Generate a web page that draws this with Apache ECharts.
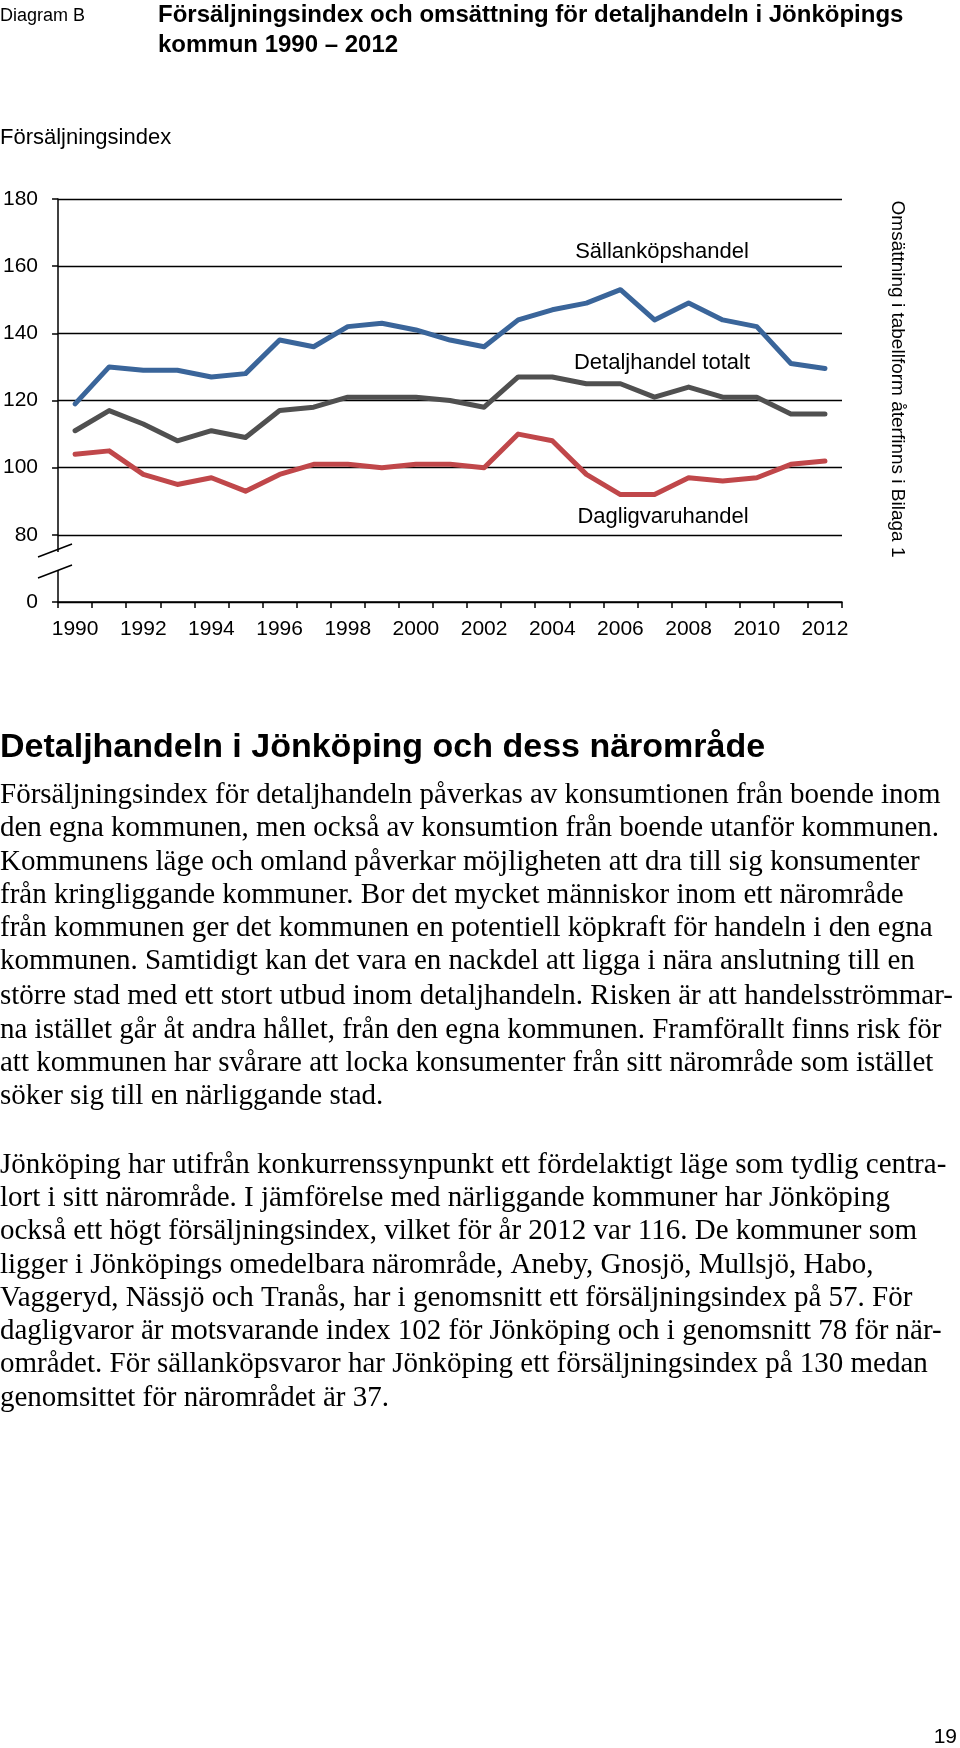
<!DOCTYPE html>
<html>
<head>
<meta charset="utf-8">
<script src="https://cdn.jsdelivr.net/npm/echarts@6/dist/echarts.min.js"></script>
<style>
html,body{margin:0;padding:0;background:#fff;}
#c{width:960px;height:1748px;}
</style>
</head>
<body>
<div id="c"></div>
<script>
// ---- data ----
const years = ['1990','1991','1992','1993','1994','1995','1996','1997','1998','1999','2000','2001','2002','2003','2004','2005','2006','2007','2008','2009','2010','2011','2012'];
const sallankop = [119,130,129,129,127,128,138,136,142,143,141,138,136,144,147,149,153,144,149,144,142,131,129.5];
const detaljTotalt = [111,117,113,108,111,109,117,118,121,121,121,120,118,127,127,125,125,121,124,121,121,116,116];
const dagligvaru = [104,105,98,95,97,93,98,101,101,100,101,101,100,110,108,98,92,92,97,96,97,101,102];
const yTicks = [60,80,100,120,140,160,180];
const yTickLabels = ['0','80','100','120','140','160','180'];
const seriesNames = ['Sällanköpshandel','Detaljhandel totalt','Dagligvaruhandel'];
const title1 = 'Försäljningsindex och omsättning för detaljhandeln i Jönköpings';
const title2 = 'kommun 1990 – 2012';
const diagramLabel = 'Diagram B';
const yName = 'Försäljningsindex';
const sideNote = 'Omsättning i tabellform återfinns i Bilaga 1';
const heading = 'Detaljhandeln i Jönköping och dess närområde';
const para1 = [
 'Försäljningsindex för detaljhandeln påverkas av konsumtionen från boende inom',
 'den egna kommunen, men också av konsumtion från boende utanför kommunen.',
 'Kommunens läge och omland påverkar möjligheten att dra till sig konsumenter',
 'från kringliggande kommuner. Bor det mycket människor inom ett närområde',
 'från kommunen ger det kommunen en potentiell köpkraft för handeln i den egna',
 'kommunen. Samtidigt kan det vara en nackdel att ligga i nära anslutning till en',
 'större stad med ett stort utbud inom detaljhandeln. Risken är att handelsströmmar-',
 'na istället går åt andra hållet, från den egna kommunen. Framförallt finns risk för',
 'att kommunen har svårare att locka konsumenter från sitt närområde som istället',
 'söker sig till en närliggande stad.'
];
const para2 = [
 'Jönköping har utifrån konkurrenssynpunkt ett fördelaktigt läge som tydlig centra-',
 'lort i sitt närområde. I jämförelse med närliggande kommuner har Jönköping',
 'också ett högt försäljningsindex, vilket för år 2012 var 116. De kommuner som',
 'ligger i Jönköpings omedelbara närområde, Aneby, Gnosjö, Mullsjö, Habo,',
 'Vaggeryd, Nässjö och Tranås, har i genomsnitt ett försäljningsindex på 57. För',
 'dagligvaror är motsvarande index 102 för Jönköping och i genomsnitt 78 för när-',
 'området. För sällanköpsvaror har Jönköping ett försäljningsindex på 130 medan',
 'genomsittet för närområdet är 37.'
];
const pageNo = '19';

// ---- chart ----
const sans = '"Liberation Sans", Arial, sans-serif';
const serif = '"Liberation Serif", "Times New Roman", serif';
const colors = ['#3a659a','#505050','#c0474a'];
const chart = echarts.init(document.getElementById('c'), null, {renderer:'canvas'});

const txt = (text, x, y, font, extra) => Object.assign({
  type:'text', x, y, style:{text, font, fill:'#000', verticalAlign:'middle'}
}, extra || {});

const graphics = [
  txt(diagramLabel, 0, 16, '18px '+sans),
  txt(title1, 158, 15, 'bold 24px '+sans),
  txt(title2, 158, 45, 'bold 24px '+sans),
  txt(yName, 0, 138, '22px '+sans),
  {type:'text', x:897, y:379, rotation:-Math.PI/2, style:{text:sideNote, font:'19px '+sans, fill:'#000', align:'center', verticalAlign:'middle'}},
  {type:'text', x:662, y:252, style:{text:seriesNames[0], font:'22px '+sans, fill:'#000', align:'center', verticalAlign:'middle'}},
  {type:'text', x:662, y:363, style:{text:seriesNames[1], font:'22px '+sans, fill:'#000', align:'center', verticalAlign:'middle'}},
  {type:'text', x:663, y:517, style:{text:seriesNames[2], font:'22px '+sans, fill:'#000', align:'center', verticalAlign:'middle'}},
  txt(heading, 0, 748, 'bold 34px '+sans),
  {type:'text', x:957, y:1737, style:{text:pageNo, font:'21px '+sans, fill:'#000', align:'right', verticalAlign:'middle'}}
];
const p1y = [795, 828, 862, 895, 928, 961, 996, 1030, 1063, 1096];
para1.forEach((t,i)=>graphics.push(txt(t, 0, p1y[i], '29px '+serif)));
para2.forEach((t,i)=>graphics.push(txt(t, 0, 1165+i*33.3, '29px '+serif)));

// axis break decoration
graphics.push({type:'rect', shape:{x:48,y:552,width:14,height:18}, style:{fill:'#fff'}, z:100});
graphics.push({type:'line', shape:{x1:38,y1:557,x2:72,y2:544}, style:{stroke:'#000', lineWidth:1.5}, z:101});
graphics.push({type:'line', shape:{x1:38,y1:578,x2:72,y2:565}, style:{stroke:'#000', lineWidth:1.5}, z:101});

const mkSeries = (name, data, color) => ({
  name, type:'line', data, showSymbol:false, symbol:'none', smooth:false,
  lineStyle:{color, width:5, cap:'round', join:'round'}, z:5, animation:false
});

chart.setOption({
  animation:false,
  backgroundColor:'#fff',
  grid:{left:55, top:199, width:787, height:403, containLabel:false},
  xAxis:{
    type:'category', data:years, boundaryGap:true,
    axisLine:{lineStyle:{color:'#000', width:1.5}},
    axisTick:{show:true, interval:0, length:6, inside:false, lineStyle:{color:'#000', width:1.5}},
    axisLabel:{interval:1, color:'#000', fontSize:21, fontFamily:sans, margin:17},
    splitLine:{show:false}
  },
  yAxis:{
    type:'value', min:60, max:180, interval:20,
    axisLine:{show:true, lineStyle:{color:'#000', width:1.5}},
    axisTick:{show:true, length:6, lineStyle:{color:'#000', width:1.5}},
    axisLabel:{color:'#000', fontSize:21, fontFamily:sans, margin:20,
      formatter:v => { const i = yTicks.indexOf(v); return i>=0 ? yTickLabels[i] : ''; }},
    splitLine:{show:true, lineStyle:{color:'#000', width:1.3}}
  },
  series:[
    mkSeries(seriesNames[0], sallankop, colors[0]),
    mkSeries(seriesNames[1], detaljTotalt, colors[1]),
    mkSeries(seriesNames[2], dagligvaru, colors[2])
  ],
  graphic:graphics
});
</script>
</body>
</html>
